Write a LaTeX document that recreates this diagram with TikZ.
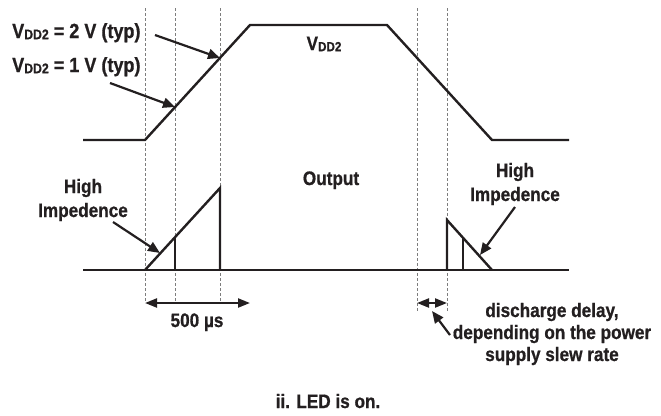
\documentclass[tikz,border=0pt]{standalone}
\usepackage{fontspec}
\setmainfont{Liberation Sans}[FakeStretch=0.88, BoldFeatures={FakeBold=0.8}]
\usepackage{graphicx}
\usepackage{tikz}
\usetikzlibrary{arrows.meta,positioning}
\definecolor{tracegray}{RGB}{35,31,32}
\definecolor{gridgray}{RGB}{125,125,125}
\newcommand{\vddtwo}{V\raisebox{-1.2bp}{\scalebox{0.68}{DD2}}}
\tikzset{
  trace/.style   ={line width=2.4bp, draw=tracegray, line join=miter},
  guide/.style   ={line width=0.7bp, draw=gridgray, dash pattern=on 3bp off 2bp},
  pointer/.style ={-{Triangle[length=12bp,width=10bp]}, line width=2.2bp, draw=tracegray, fill=tracegray},
  span/.style    ={{Triangle[length=12bp,width=9bp]}-{Triangle[length=12bp,width=9bp]},
                   line width=2.2bp, draw=tracegray, fill=tracegray},
  lbl/.style     ={font=\bfseries\fontsize{19.5bp}{22bp}\selectfont, text=tracegray,
                   inner sep=0pt, align=center},
  biglbl/.style  ={lbl, font=\bfseries\fontsize{20.5bp}{24bp}\selectfont},
  hzlbl/.style   ={lbl, font=\bfseries\fontsize{19.5bp}{24bp}\selectfont}
}

\begin{document}
\begin{tikzpicture}[x=1bp, y=-1bp]
\useasboundingbox (0,0) rectangle (661,415);

\foreach \gx in {145,175,220} \draw[guide] (\gx,8) -- (\gx,303);
\foreach \gx in {417,447} \draw[guide] (\gx,8) -- (\gx,313);

\draw[trace] (83,140) -- (145,140) -- (250,25) -- (387,25) -- (492,140) -- (569,140);
\draw[trace] (83,270) -- (569,270);
\draw[trace] (145,270) -- (220,188) -- (220,270);
\draw[trace] (175,270) -- (175,237);
\draw[trace] (447,270) -- (447,220) -- (492,270);
\draw[trace] (463,270) -- (463,238);

\node[biglbl, anchor=base west] (vtwo) at (12,38) {\vddtwo{} = 2 V (typ)};
\node[biglbl, anchor=base west] (vone) at (12,72) {\vddtwo{} = 1 V (typ)};
\node[lbl, anchor=base] (vdd) at (324,50) {\vddtwo};
\node[lbl, anchor=base] (out) at (331,185) {Output};
\node[hzlbl, anchor=base] (hzl) at (83,217) {High\\Impedence};
\node[hzlbl, anchor=base] (hzr) at (515,201) {High\\Impedence};
\node[lbl, anchor=base] (dur) at (197,327) {500 µs};
\node[lbl, anchor=base] (dly) at (552,361) {discharge delay,\\depending on the power\\supply slew rate};
\node[lbl, anchor=base] (cap) at (328,408) {ii. LED is on.};

\coordinate (t2) at (155,35);  \coordinate (k2) at (220,58);
\coordinate (t1) at (110,83);  \coordinate (k1) at (175,107);
\coordinate (tl) at (113,222); \coordinate (kl) at (160,253);
\coordinate (tr) at (515,207); \coordinate (kr) at (480,255);
\coordinate (s0) at (145,303); \coordinate (s1) at (250,303);
\coordinate (d0) at (417,303); \coordinate (d1) at (447,303);
\coordinate (tp) at (450,335); \coordinate (kp) at (432,311);

\draw[pointer] (t2) -- (k2);
\draw[pointer] (t1) -- (k1);
\draw[pointer] (tl) -- (kl);
\draw[pointer] (tr) -- (kr);
\draw[span] (s0) -- (s1);
\draw[span] (d0) -- (d1);
\draw[pointer] (tp) -- (kp);
\end{tikzpicture}
\end{document}
